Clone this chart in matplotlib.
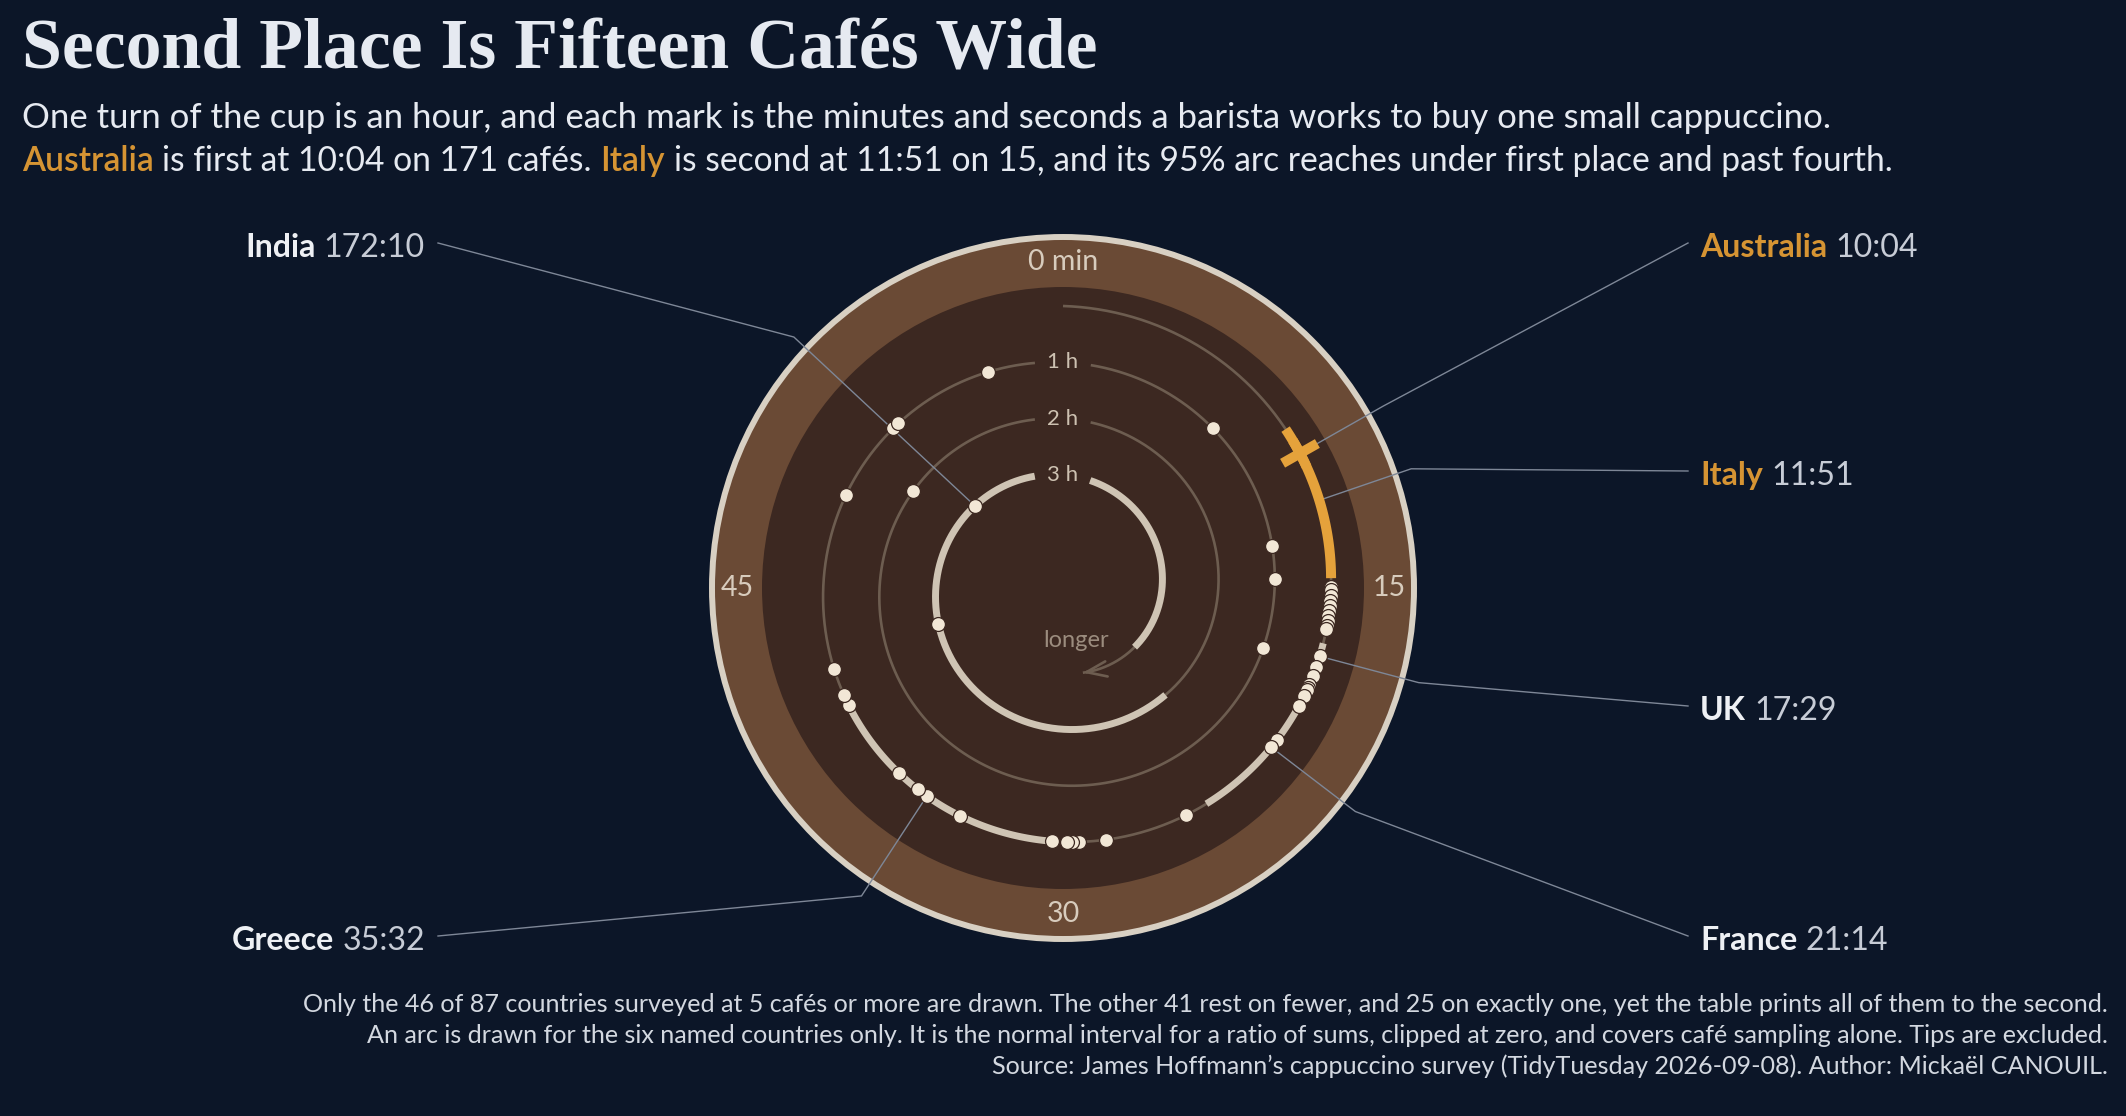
import numpy as np
import matplotlib
matplotlib.use('Agg')
import matplotlib.pyplot as plt
from matplotlib.patches import Circle

# ---------------- data ----------------
named_countries = ['Australia', 'Italy', 'UK', 'France', 'Greece', 'India']
named_minutes = [10 + 4/60, 11 + 51/60, 17 + 29/60, 21 + 14/60, 35 + 32/60, 172 + 10/60]
named_values = ['10:04', '11:51', '17:29', '21:14', '35:32', '172:10']
named_ci_low = [9.55, 9.08, 17.0, 19.6, 30.3, 142.7]
named_ci_high = [10.6, 14.65, 18.0, 24.4, 40.5, 201.6]
named_highlight = [True, True, False, False, False, False]

other_minutes = [14.95, 15.06, 15.3, 15.47, 15.65, 15.83, 16.01, 16.2, 16.35, 16.48,
                 17.9, 18.24, 18.6, 18.7, 18.8, 19.03, 19.43, 20.92,
                 25.28, 28.38, 29.4, 29.65, 29.85, 30.4,
                 34.07, 35.97, 36.93, 40.22, 40.68, 41.77,
                 48.85, 52.2, 52.5, 56.83,
                 67.2, 73.1, 74.6, 77.8, 110.5,
                 162.35]

hour_ticks = [1, 2, 3]
hour_labels = ['1 h', '2 h', '3 h']
minute_ticks = [0, 15, 30, 45]
minute_labels = ['0 min', '15', '30', '45']
track_end_minutes = 207.8

title = 'Second Place Is Fifteen Cafés Wide'
subtitle1 = ('One turn of the cup is an hour, and each mark is the minutes and seconds '
             'a barista works to buy one small cappuccino.')
subtitle2_runs = [('Australia', 'hi'), ('is first at 10:04 on 171 cafés.', 'tx'),
                  ('Italy', 'hi'),
                  ('is second at 11:51 on 15, and its 95% arc reaches under first place and past fourth.', 'tx')]
footer = ['Only the 46 of 87 countries surveyed at 5 cafés or more are drawn. The other 41 rest on fewer, '
          'and 25 on exactly one, yet the table prints all of them to the second.',
          'An arc is drawn for the six named countries only. It is the normal interval for a ratio of sums, '
          'clipped at zero, and covers café sampling alone. Tips are excluded.',
          'Source: James Hoffmann\u2019s cappuccino survey (TidyTuesday 2026-09-08). Author: Mickaël CANOUIL.']

# ---------------- style / layout ----------------
BG = '#0C1628'
TXT = '#E6EAF1'
VAL = '#C7CCD6'
ORANGE_TXT = '#D69433'
ORANGE = '#E5A23B'
BAND = '#6A4A35'
DISC = '#3C2821'
RING = '#D8D0C3'
TRACK = '#6D5D50'
CI = '#CFC4B4'
DOT = '#F2E7D6'
LEAD = '#7E8797'
SANS = ['Lato', 'DejaVu Sans']

W, H = 2126, 1116
CX, CY = 1063, 588
R0, DR = 282.0, 56.3
R_RING, R_BAND, R_DISC = 351, 349, 301
R_MINLAB, R_BEND = 326, 368
LEFT_X, RIGHT_X = 425, 1700
label_layout = {'Australia': ('right', 245), 'Italy': ('right', 473), 'UK': ('right', 708),
                'France': ('right', 938), 'Greece': ('left', 938), 'India': ('left', 245)}

fig = plt.figure(figsize=(W / 100, H / 100), dpi=100)
fig.patch.set_facecolor(BG)
ax = fig.add_axes([0, 0, 1, 1])
ax.set_xlim(0, W)
ax.set_ylim(H, 0)
ax.axis('off')
ax.set_facecolor(BG)
renderer = fig.canvas.get_renderer()


def spiral_r(t):
    return R0 - DR * np.asarray(t, dtype=float) / 60.0


def polar_xy(t, r):
    a = 2 * np.pi * np.asarray(t, dtype=float) / 60.0
    return CX + r * np.sin(a), CY - r * np.cos(a)


def spiral_xy(t):
    return polar_xy(t, spiral_r(t))


gaps = []
for h in hour_ticks:
    tm = 60.0 * h
    g = 28.0 / spiral_r(tm) * 60 / (2 * np.pi)
    gaps.append((tm - g, tm + g))


def pieces(t0, t1):
    segs = [(t0, t1)]
    for g0, g1 in gaps:
        new = []
        for a, b in segs:
            if b <= g0 or a >= g1:
                new.append((a, b))
                continue
            if a < g0:
                new.append((a, g0))
            if b > g1:
                new.append((g1, b))
        segs = new
    return segs


def draw_arc(t0, t1, **kw):
    for a, b in pieces(t0, t1):
        tt = np.linspace(a, b, max(3, int((b - a) * 10)))
        x, y = spiral_xy(tt)
        ax.plot(x, y, solid_capstyle='butt', **kw)


# cup
ax.add_patch(Circle((CX, CY), R_BAND, facecolor=BAND, edgecolor='none', zorder=1))
ax.add_patch(Circle((CX, CY), R_RING, facecolor='none', edgecolor=RING, lw=4.3, zorder=2))
ax.add_patch(Circle((CX, CY), R_DISC, facecolor=DISC, edgecolor='none', zorder=1.5))

for m, lab in zip(minute_ticks, minute_labels):
    x, y = polar_xy(m, R_MINLAB)
    ax.text(x, y, lab, ha='center', va='center', color='#D8CCBD', fontsize=20.5,
            family=SANS, zorder=3)

# track
draw_arc(0, track_end_minutes, color=TRACK, lw=1.9, zorder=3)
xe, ye = spiral_xy(track_end_minutes)
xp, yp = spiral_xy(track_end_minutes - 0.6)
ax.annotate('', xy=(xe, ye), xytext=(xp, yp),
            arrowprops=dict(arrowstyle='->,head_length=1.45,head_width=0.55', color=TRACK,
                            lw=1.9, shrinkA=0, shrinkB=0), zorder=3)
ax.text(xe - 7, ye - 32, 'longer', ha='center', va='center', color='#9B8C7E',
        fontsize=17, family=SANS, zorder=3)

for h, lab in zip(hour_ticks, hour_labels):
    x, y = spiral_xy(60 * h)
    ax.text(x, y, lab, ha='center', va='center', color='#CDC1B1', fontsize=16,
            family=SANS, zorder=3)

# intervals
for name, lo, hi, hl in zip(named_countries, named_ci_low, named_ci_high, named_highlight):
    if hl:
        draw_arc(lo, hi, color=ORANGE, lw=7.2, zorder=4)
    else:
        draw_arc(lo, hi, color=CI, lw=5.0, zorder=4)

# leader lines
for name, m in zip(named_countries, named_minutes):
    side, ly = label_layout[name]
    x0, y0 = spiral_xy(m)
    xb, yb = polar_xy(m, R_BEND)
    xl = LEFT_X + 13 if side == 'left' else RIGHT_X - 12
    ax.plot([x0, xb, xl], [y0, yb, ly - 2], color=LEAD, lw=1.0, zorder=3.5,
            solid_joinstyle='miter')

# dots
dot_minutes = list(other_minutes) + [m for m, hl in zip(named_minutes, named_highlight) if not hl]
dot_minutes = sorted(dot_minutes)
dx, dy = spiral_xy(dot_minutes)
ax.scatter(dx, dy, s=100, facecolor=DOT, edgecolor=DISC, linewidth=0.9, zorder=5)

# highlighted tick (first place)
m_au = named_minutes[0]
r_au = spiral_r(m_au)
xa, ya = polar_xy([m_au, m_au], np.array([r_au - 20, r_au + 20]))
ax.plot(xa, ya, color=ORANGE, lw=7.2, solid_capstyle='butt', zorder=6)


# ---------------- text helpers ----------------
def width_of(s, fs, weight='normal', family=SANS):
    t = ax.text(0, 0, s, fontsize=fs, fontweight=weight, family=family)
    w = t.get_window_extent(renderer).width
    t.remove()
    return w


def fit_size(s, target, weight='normal', family=SANS, base=20):
    return base * target / width_of(s, base, weight, family)


def runs_width(runs, fs):
    sp = width_of('x x', fs) - width_of('xx', fs)
    return sum(width_of(s, fs, wt) for s, c, wt in runs) + sp * (len(runs) - 1)


def draw_runs(x, y, runs, fs, ha='left'):
    sp = width_of('x x', fs) - width_of('xx', fs)
    widths = [width_of(s, fs, wt) for s, c, wt in runs]
    total = sum(widths) + sp * (len(runs) - 1)
    cur = x if ha == 'left' else x - total
    for (s, c, wt), w in zip(runs, widths):
        ax.text(cur, y, s, ha='left', va='baseline', color=c, fontsize=fs,
                fontweight=wt, family=SANS, zorder=10)
        cur += w + sp


# title
TFAM = ['Liberation Serif', 'DejaVu Serif']
tfs = fit_size(title, 1074, 'bold', TFAM, 40)
ax.text(22, 68, title, ha='left', va='baseline', color=TXT, fontsize=tfs,
        fontweight='bold', family=TFAM)

sfs = fit_size(subtitle1, 1815)
ax.text(22, 128, subtitle1, ha='left', va='baseline', color=TXT, fontsize=sfs, family=SANS)
runs = [(s, ORANGE_TXT if k == 'hi' else TXT, 'semibold' if k == 'hi' else 'normal')
        for s, k in subtitle2_runs]
sfs2 = sfs * 1866 / runs_width(runs, sfs)
draw_runs(22, 171, runs, sfs2)

ffs = fit_size(footer[0], 1814)
for i, line in enumerate(footer):
    ax.text(2108, 1012 + 31 * i, line, ha='right', va='baseline', color='#D3D8E0',
            fontsize=ffs, family=SANS)

# labels
lfs = fit_size('Australia 10:04', 218, 'bold')
for name, val, hl in zip(named_countries, named_values, named_highlight):
    side, ly = label_layout[name]
    ncol = ORANGE_TXT if hl else '#EEF0F4'
    r = [(name, ncol, 'bold'), (val, VAL, 'normal')]
    if side == 'right':
        draw_runs(RIGHT_X, ly + 0.36 * lfs * 1.389, r, lfs, 'left')
    else:
        draw_runs(LEFT_X, ly + 0.36 * lfs * 1.389, r, lfs, 'right')

fig.savefig('out.png', dpi=100, facecolor=BG)
